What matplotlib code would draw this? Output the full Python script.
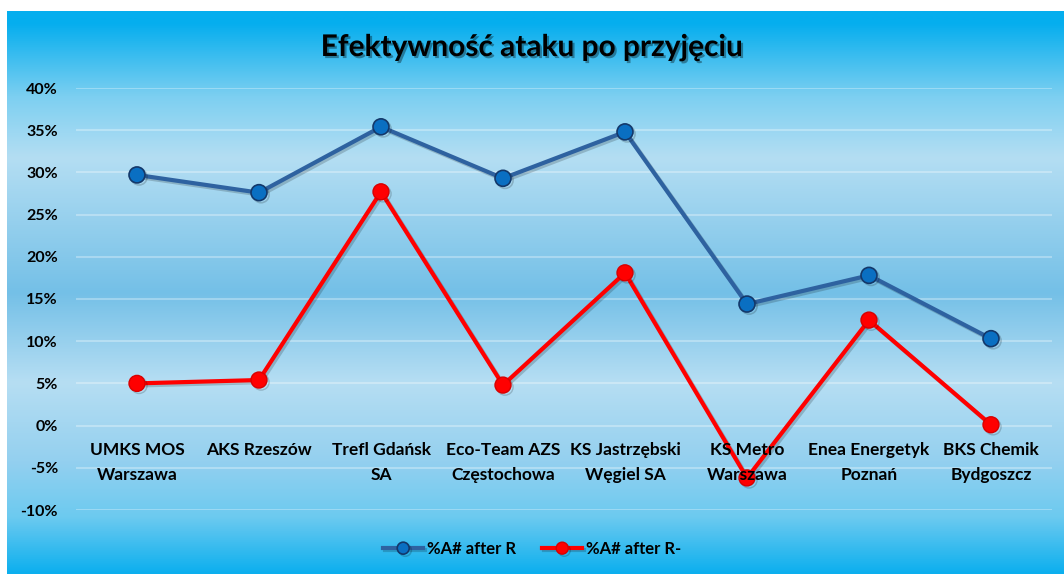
import matplotlib.pyplot as plt
import matplotlib.patheffects as pe
import matplotlib.ticker as mticker
import numpy as np

teams = ["UMKS MOS\nWarszawa", "AKS Rzeszów", "Trefl Gdańsk\nSA", "Eco-Team AZS\nCzęstochowa",
         "KS Jastrzębski\nWęgiel SA", "KS Metro\nWarszawa", "Enea Energetyk\nPoznań", "BKS Chemik\nBydgoszcz"]
after_r = [29.7, 27.6, 35.4, 29.3, 34.8, 14.4, 17.8, 10.3]
after_r_minus = [5.0, 5.4, 27.7, 4.8, 18.1, -6.2, 12.5, 0.1]
yticks = [-10, -5, 0, 5, 10, 15, 20, 25, 30, 35, 40]

plt.rcParams['font.family'] = ['Lato', 'DejaVu Sans']
plt.rcParams['font.weight'] = 'bold'

fig = plt.figure(figsize=(10.64, 5.74), dpi=100)

# gradient background
bg = fig.add_axes([0, 0, 1, 1], zorder=-5)
bg.set_axis_off()
stops_y = [0, 0.02, 0.15, 0.26, 0.5, 0.66, 0.8, 0.9, 1.0]
stops_c = ["#05aeee", "#05aeee", "#7ccff1", "#b4def3", "#74c0e7", "#b6def3", "#94d0ef", "#6ccaf0", "#0cafee"]
yy = np.linspace(0, 1, 300)
rgb = np.array([[int(c[i:i + 2], 16) / 255 for i in (1, 3, 5)] for c in stops_c])
grad = np.stack([np.interp(yy, stops_y, rgb[:, k]) for k in range(3)], axis=-1)
img = np.repeat(grad[:, None, :], 2, axis=1)
bg.imshow(img, aspect='auto', extent=[7 / 1064, 1, 0, 1 - 11 / 574], origin='upper')
bg.set_xlim(0, 1)
bg.set_ylim(0, 1)

ax = fig.add_axes([76 / 1064, 1 - 510 / 574, 976 / 1064, 422 / 574])
ax.set_facecolor('none')
x = np.arange(len(teams))
shadow = [pe.SimpleLineShadow(offset=(1.5, -1.5), alpha=0.18), pe.Normal()]
ax.plot(x, after_r, color="#2e62a0", lw=3, marker='o', ms=11.5, mfc="#0a6fc2", mec="#13386a",
        mew=1.2, label="%A# after R", path_effects=shadow, zorder=3)
ax.plot(x, after_r_minus, color="#ff0000", lw=3, marker='o', ms=11.5, mfc="#ff0000", mec="#d80000",
        mew=1.0, label="%A# after R-", path_effects=shadow, zorder=3)

ax.set_xlim(-0.5, len(teams) - 0.5)
ax.set_ylim(-10, 40)
ax.set_yticks(yticks)
ax.yaxis.set_major_formatter(mticker.FuncFormatter(lambda v, p: f"{v:.0f}%"))
ax.tick_params(axis='y', length=0, pad=13, labelsize=11.5)
ax.set_xticks([])
for s in ax.spines.values():
    s.set_visible(False)
ax.grid(axis='y', color='white', alpha=0.3, lw=1.5)

for xi, name in zip(x, teams):
    ax.text(xi, 0.16, name, transform=ax.get_xaxis_transform(), ha='center', va='top',
            fontsize=12.5, fontweight='bold', linespacing=1.65)

fig.text(0.5, 1 - 47 / 574, "Efektywność ataku po przyjęciu", ha='center', va='center',
         fontsize=21.5, fontweight='bold',
         path_effects=[pe.SimplePatchShadow(offset=(1.5, -1.5), alpha=0.35), pe.Normal()])

fig.legend(loc='center', bbox_to_anchor=(0.5, 1 - 549 / 574), ncol=2, frameon=False,
           fontsize=12, handlelength=2.4, columnspacing=1.6, handletextpad=0.2, markerscale=0.75)

fig.savefig("out.png", dpi=100)
